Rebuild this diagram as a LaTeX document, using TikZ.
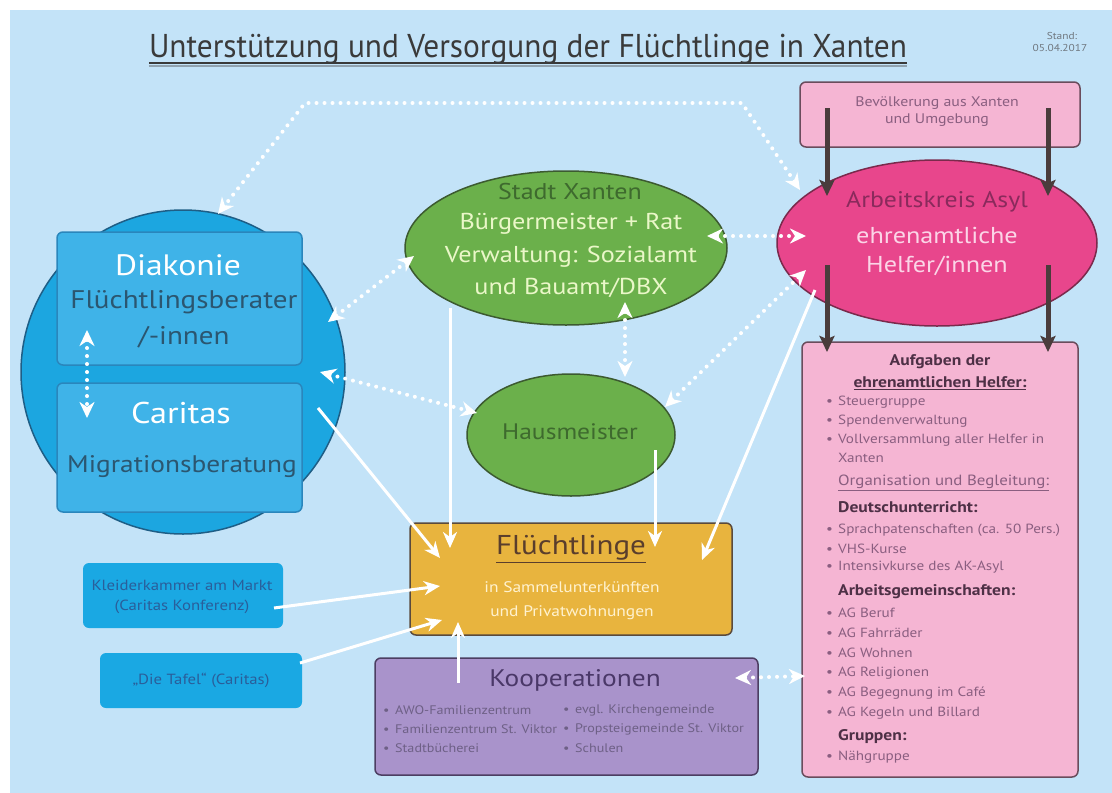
\documentclass[tikz,border=0pt]{standalone}
\usepackage{fontspec}
\setmainfont{PT Sans}[FakeStretch=1.14]
\newfontfamily\titlefont[FakeStretch=0.95]{PT Sans}
\usetikzlibrary{arrows.meta,shapes.geometric}
\definecolor{bg}{HTML}{C3E3F8}
\definecolor{circfill}{HTML}{1CA6E0}
\definecolor{circline}{HTML}{1E5E86}
\definecolor{bluebox}{HTML}{3FB3E8}
\definecolor{blueline}{HTML}{2A86BC}
\definecolor{diaktext}{HTML}{2B5670}
\definecolor{smallblue}{HTML}{1AA8E3}
\definecolor{smalltext}{HTML}{2A5E9A}
\definecolor{greenfill}{HTML}{6BB04B}
\definecolor{greenline}{HTML}{3C5A30}
\definecolor{greendark}{HTML}{3E6A2E}
\definecolor{greenlight}{HTML}{EAF7C8}
\definecolor{akfill}{HTML}{E8468C}
\definecolor{akline}{HTML}{7A2A4C}
\definecolor{akdark}{HTML}{8A2A5C}
\definecolor{aklight}{HTML}{FBD5E7}
\definecolor{pinkfill}{HTML}{F5B5D3}
\definecolor{pinkline}{HTML}{6A4C5C}
\definecolor{pinktext}{HTML}{8A5E80}
\definecolor{pinkhead}{HTML}{4E3046}
\definecolor{orangefill}{HTML}{E8B43E}
\definecolor{orangeline}{HTML}{5A4A3C}
\definecolor{orangetext}{HTML}{5A3E2C}
\definecolor{cream}{HTML}{FFF2CF}
\definecolor{purplefill}{HTML}{A993CB}
\definecolor{purpleline}{HTML}{4C3E62}
\definecolor{purpletext}{HTML}{4A3868}
\definecolor{darkarr}{HTML}{4A3C3C}
\definecolor{titlec}{HTML}{3A3A3A}
\definecolor{standc}{HTML}{707880}
\begin{document}
\begin{tikzpicture}[x=1pt,y=-1pt,
  rbox/.style={rectangle, rounded corners=6pt, line width=1.5pt, inner sep=0pt},
  ell/.style={ellipse, line width=1.5pt, inner sep=0pt},
  txt/.style={inner sep=0pt, align=center},
  fs/.style={font=\fontsize{#1}{#1}\selectfont},
  solidarrow/.style={draw=white, line width=3pt, -{Stealth[length=16pt,width=14pt,inset=5pt]}},
  dotarrow/.style={draw=white, line width=4pt, line cap=round, dash pattern=on 0pt off 8pt,
     {Stealth[length=16pt,width=15pt,inset=5pt]}-{Stealth[length=16pt,width=15pt,inset=5pt]}},
  darkarrow/.style={draw=darkarr, line width=5pt, -{Stealth[length=16pt,width=15pt,inset=3pt]}},
  item/.style={inner sep=0pt, anchor=west, text=pinktext, font=\fontsize{13.3}{13.3}\selectfont},
  head/.style={inner sep=0pt, text=pinkhead, font=\bfseries\fontsize{15.4}{15.4}\selectfont},
  koopitem/.style={inner sep=0pt, anchor=west, text=purpletext!80!white, font=\fontsize{12.4}{12.4}\selectfont}
]
\useasboundingbox (0,0) rectangle (1112,793);
\fill[white] (0,0) rectangle (1112,793);
\fill[bg] (10,10) rectangle (1112,793);

% title
\node[inner sep=0pt, anchor=base, text=titlec, font=\titlefont\fontsize{33}{33}\selectfont] (title) at (528,57) {Unterstützung und Versorgung der Flüchtlinge in Xanten};
\draw[line width=2pt, standc!60!bg] ([yshift=-9pt]title.base west) -- ([yshift=-9pt]title.base east);
\draw[line width=1.6pt, titlec] ([yshift=-6pt]title.base west) -- ([yshift=-6pt]title.base east);
\node[txt, text=standc, fs=10] (stand1) at (1062,36) {Stand:};
\node[txt, text=standc, fs=10] (stand2) at (1060,48) {05.04.2017};

% left circle and boxes
\node[circle, minimum size=324pt, inner sep=0pt, fill=circfill, draw=circline, line width=1.5pt] (circ) at (183,372) {};
\node[rbox, minimum width=245pt, minimum height=133pt, fill=bluebox, draw=blueline] (diak) at (179.5,298.5) {};
\node[rbox, minimum width=245pt, minimum height=129pt, fill=bluebox, draw=blueline] (carit) at (179.5,447.5) {};
\node[rbox, minimum width=200pt, minimum height=65pt, fill=smallblue, draw=none] (kleid) at (183,595.5) {};
\node[rbox, minimum width=202pt, minimum height=55pt, fill=smallblue, draw=none] (tafel) at (201,680.5) {};

% ellipses
\node[ell, minimum width=322pt, minimum height=154pt, fill=greenfill, draw=greenline] (stadt) at (566,248) {};
\node[ell, minimum width=208pt, minimum height=122pt, fill=greenfill, draw=greenline] (haus) at (571,435) {};
\node[rbox, minimum width=280pt, minimum height=65pt, fill=pinkfill, draw=pinkline] (bev) at (940,114.5) {};
\node[ell, minimum width=320pt, minimum height=166pt, fill=akfill, draw=akline] (ak) at (937,243) {};
\node[rbox, minimum width=276pt, minimum height=435pt, fill=pinkfill, draw=pinkline] (aufg) at (940,559.5) {};
\node[rbox, minimum width=322pt, minimum height=112pt, fill=orangefill, draw=orangeline] (fl) at (571,579) {};
\node[rbox, minimum width=383pt, minimum height=117pt, fill=purplefill, draw=purpleline] (koop) at (566.5,716.5) {};

% coordinates for connector ends
\coordinate (d1) at (800,190); \coordinate (d2) at (742,103); \coordinate (d3) at (305,103); \coordinate (d4) at (218,214);
\coordinate (e1) at (707,236); \coordinate (e2) at (806,236);
\coordinate (f1) at (414,256); \coordinate (f2) at (328,322);
\coordinate (g1) at (625,302); \coordinate (g2) at (625,377);
\coordinate (h1) at (320,372); \coordinate (h2) at (477,413);
\coordinate (i1) at (665,407); \coordinate (i2) at (806,270);
\coordinate (j1) at (735,678); \coordinate (j2) at (805,676);
\coordinate (k1) at (87,330); \coordinate (k2) at (87,418);
\coordinate (s1a) at (318,408); \coordinate (s1b) at (440,558);
\coordinate (s2a) at (450,308); \coordinate (s2b) at (450,548);
\coordinate (s3a) at (655,450); \coordinate (s3b) at (655,547);
\coordinate (s4a) at (815,290); \coordinate (s4b) at (702,560);
\coordinate (s5a) at (274,608); \coordinate (s5b) at (440,586);
\coordinate (s6a) at (300,663); \coordinate (s6b) at (442,620);
\coordinate (s7a) at (458,683); \coordinate (s7b) at (458,622);
\coordinate (b1a) at (827,108); \coordinate (b1b) at (827,196);
\coordinate (b2a) at (1048,108); \coordinate (b2b) at (1048,196);
\coordinate (b3a) at (827,265); \coordinate (b3b) at (827,352);
\coordinate (b4a) at (1048,265); \coordinate (b4b) at (1048,352);

% dotted connectors
\draw[dotarrow] (d1) -- (d2) -- (d3) -- (d4);
\draw[dotarrow] (e1) -- (e2);
\draw[dotarrow] (f1) -- (f2);
\draw[dotarrow] (g1) -- (g2);
\draw[dotarrow] (h1) -- (h2);
\draw[dotarrow] (i1) -- (i2);
\draw[dotarrow] (j1) -- (j2);
\draw[dotarrow] (k1) -- (k2);

% solid connectors
\draw[solidarrow] (s1a) -- (s1b);
\draw[solidarrow] (s2a) -- (s2b);
\draw[solidarrow] (s3a) -- (s3b);
\draw[solidarrow] (s4a) -- (s4b);
\draw[solidarrow] (s5a) -- (s5b);
\draw[solidarrow] (s6a) -- (s6b);
\draw[solidarrow] (s7a) -- (s7b);

% dark arrows
\draw[darkarrow] (b1a) -- (b1b);
\draw[darkarrow] (b2a) -- (b2b);
\draw[darkarrow] (b3a) -- (b3b);
\draw[darkarrow] (b4a) -- (b4b);

% texts left
\node[txt, text=white, fs=29.5] (tdiak) at (178,265) {Diakonie};
\node[txt, text=diaktext, fs=25.5] (tdiak2) at (184,302) {Flüchtlingsberater};
\node[txt, text=diaktext, fs=25.5] (tdiak3) at (184,337) {/-innen};
\node[txt, text=white, fs=30] (tcar) at (181,413) {Caritas};
\node[txt, text=diaktext, fs=24] (tcar2) at (182,467) {Migrationsberatung};
\node[txt, text=smalltext, fs=14.7] (tkl1) at (182,585) {Kleiderkammer am Markt};
\node[txt, text=smalltext, fs=14.7] (tkl2) at (182,607) {(Caritas Konferenz)};
\node[txt, text=smalltext, fs=14.7] (ttaf) at (201,680) {„Die Tafel“ (Caritas)};

% Stadt / Hausmeister
\node[txt, text=greendark, fs=22.8] (tst1) at (570,192) {Stadt Xanten};
\node[txt, text=greenlight, fs=23] (tst2) at (571,224) {Bürgermeister + Rat};
\node[txt, text=greenlight, fs=23] (tst3) at (571,257) {Verwaltung: Sozialamt};
\node[txt, text=greenlight, fs=23] (tst4) at (571,288) {und Bauamt/DBX};
\node[txt, text=greendark, fs=22.4] (thaus) at (570,432) {Hausmeister};

% AK / Bev
\node[txt, text=pinktext, fs=13.9] (tbev1) at (937,103) {Bevölkerung aus Xanten};
\node[txt, text=pinktext, fs=13.9] (tbev2) at (937,120) {und Umgebung};
\node[txt, text=akdark, fs=22.6] (tak1) at (937,202) {Arbeitskreis Asyl};
\node[txt, text=aklight, fs=23] (tak2) at (937,235) {ehrenamtliche};
\node[txt, text=aklight, fs=23] (tak3) at (937,266) {Helfer/innen};

% Flüchtlinge
\node[txt, text=orangetext, fs=27.2] (tfl1) at (571,549) {\underline{Flüchtlinge}};
\node[txt, text=cream, fs=15.3] (tfl2) at (572,587) {in Sammelunterkünften};
\node[txt, text=cream, fs=15.3] (tfl3) at (572,613) {und Privatwohnungen};

% Kooperationen
\node[txt, text=purpletext, fs=24] (tko) at (575,680) {Kooperationen};
\node[koopitem] (ko1) at (383,710) {\makebox[12pt][l]{•}AWO-Familienzentrum};
\node[koopitem] (ko2) at (383,729) {\makebox[12pt][l]{•}Familienzentrum St. Viktor};
\node[koopitem] (ko3) at (383,748) {\makebox[12pt][l]{•}Stadtbücherei};
\node[koopitem] (ko4) at (563,710) {\makebox[12pt][l]{•}evgl. Kirchengemeinde};
\node[koopitem] (ko5) at (563,729) {\makebox[12pt][l]{•}Propsteigemeinde St. Viktor};
\node[koopitem] (ko6) at (563,748) {\makebox[12pt][l]{•}Schulen};

% Aufgaben
\node[head] (a1) at (940,362) {Aufgaben der};
\node[head] (a2) at (940,383) {\underline{ehrenamtlichen Helfer:}};
\node[item] (a3) at (826,402) {\makebox[12pt][l]{•}Steuergruppe};
\node[item] (a4) at (826,421) {\makebox[12pt][l]{•}Spendenverwaltung};
\node[item] (a5) at (826,440) {\makebox[12pt][l]{•}Vollversammlung aller Helfer in};
\node[item] (a6) at (838,458) {Xanten};
\node[item, font=\fontsize{14.8}{14.8}\selectfont] (a7) at (838,483) {\underline{Organisation und Begleitung:}};
\node[head, anchor=west] (a8) at (838,507) {Deutschunterricht:};
\node[item] (a9) at (826,530) {\makebox[12pt][l]{•}Sprachpatenschaften (ca. 50 Pers.)};
\node[item] (a10) at (826,549) {\makebox[12pt][l]{•}VHS-Kurse};
\node[item] (a11) at (826,567) {\makebox[12pt][l]{•}Intensivkurse des AK-Asyl};
\node[head, anchor=west] (a12) at (838,592) {Arbeitsgemeinschaften:};
\node[item] (a13) at (826,613) {\makebox[12pt][l]{•}AG Beruf};
\node[item] (a14) at (826,633) {\makebox[12pt][l]{•}AG Fahrräder};
\node[item] (a15) at (826,653) {\makebox[12pt][l]{•}AG Wohnen};
\node[item] (a16) at (826,673) {\makebox[12pt][l]{•}AG Religionen};
\node[item] (a17) at (826,693) {\makebox[12pt][l]{•}AG Begegnung im Café};
\node[item] (a18) at (826,713) {\makebox[12pt][l]{•}AG Kegeln und Billard};
\node[head, anchor=west] (a19) at (838,737) {Gruppen:};
\node[item] (a20) at (826,757) {\makebox[12pt][l]{•}Nähgruppe};
\end{tikzpicture}
\end{document}
